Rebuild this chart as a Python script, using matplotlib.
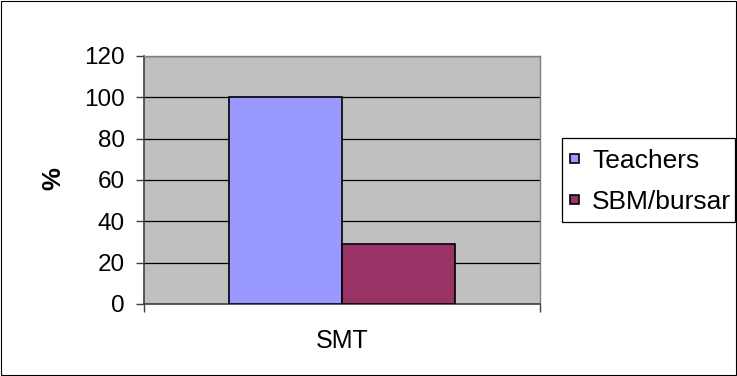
import matplotlib
matplotlib.use("Agg")
import matplotlib.pyplot as plt
from matplotlib.patches import Rectangle
import numpy as np

plt.rcParams['font.family'] = ['Liberation Sans', 'DejaVu Sans']

categories = ["SMT"]
series_names = ["Teachers", "SBM/bursar"]
series_values = [[100], [29]]
series_colors = ["#9999FF", "#993366"]
y_ticks = [0, 20, 40, 60, 80, 100, 120]

FS = 17.5
LEG_FS = 19
W, H = 737, 376
fig = plt.figure(figsize=(W / 100, H / 100), dpi=100)


def fig_rect(x0, y0, x1, y1, **kw):
    """Rectangle given in pixel coordinates measured from the top-left corner."""
    return Rectangle((x0 / W, 1 - y1 / H), (x1 - x0) / W, (y1 - y0) / H,
                     transform=fig.transFigure, **kw)


# outer chart border
fig.patches.append(fig_rect(0.5, 0.5, W - 1, H - 1, fill=False,
                            edgecolor="black", linewidth=0.8))

left, right, top, bottom = 144, 540, 56, 304
ax = fig.add_axes([left / W, 1 - bottom / H, (right - left) / W, (bottom - top) / H])
ax.set_facecolor("#C0C0C0")

x = np.arange(len(categories))
bar_w = 1 / 3.5
for i, (name, vals, col) in enumerate(zip(series_names, series_values, series_colors)):
    offs = (i - (len(series_names) - 1) / 2) * bar_w
    ax.bar(x + offs, vals, width=bar_w, color=col, edgecolor="black",
           linewidth=1.2, label=name, zorder=3)

ax.set_xlim(-0.5, len(categories) - 0.5)
ax.set_ylim(0, 120)
ax.set_yticks(y_ticks)
ax.yaxis.grid(True, color="black", linewidth=0.9, zorder=1)
ax.set_axisbelow(True)

ax.set_xticks([-0.5, len(categories) - 0.5])
ax.set_xticklabels([])
ax.tick_params(axis="x", direction="out", length=5.8, width=1, color="#404040")
ax.tick_params(axis="y", direction="out", length=5.8, width=1, color="#404040",
               labelsize=FS, pad=8)
for i, c in enumerate(categories):
    ax.text(i, 1 - (341 - top) / (bottom - top), c, transform=ax.get_xaxis_transform(),
            ha="center", va="center", fontsize=FS + 0.5)

for s in ["top", "right"]:
    ax.spines[s].set_color("#808080")
    ax.spines[s].set_linewidth(1)
for s in ["left", "bottom"]:
    ax.spines[s].set_color("#404040")
    ax.spines[s].set_linewidth(1.2)

fig.text(53 / W, 1 - 179 / H, "%", rotation=90, ha="center", va="center",
         fontsize=18.5, fontweight="bold")

# legend frame
fig.patches.append(fig_rect(562, 138, 735, 222, fill=False,
                            edgecolor="black", linewidth=0.9))

# square legend keys: key height = fs * (0.65 * handleheight + 0.245)
key = 0.33
leg = fig.legend(loc="upper left", bbox_to_anchor=(570 / W, 1 - 149 / H),
                 frameon=False, fontsize=LEG_FS, handlelength=key,
                 handleheight=(key - 0.245) / 0.65,
                 handletextpad=0.5, borderpad=0, labelspacing=0.65,
                 borderaxespad=0)

fig.savefig("out.png", dpi=100)
